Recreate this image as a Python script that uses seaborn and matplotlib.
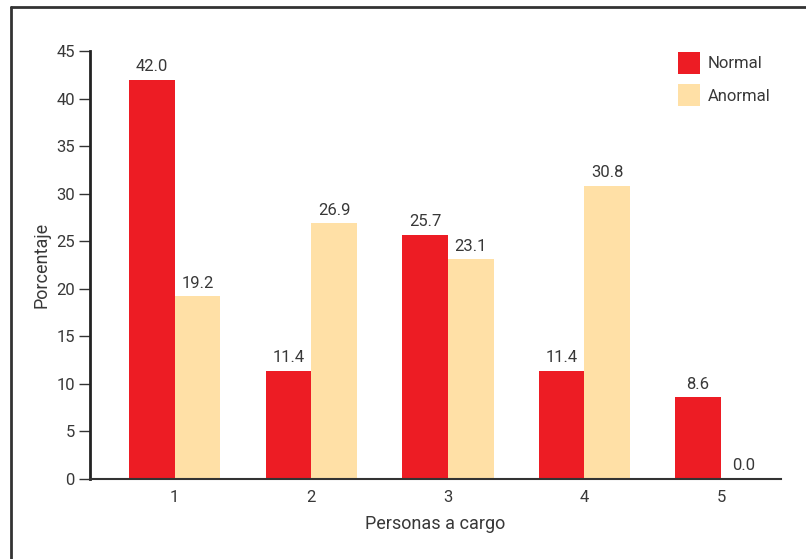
import matplotlib
matplotlib.use("Agg")
import matplotlib.pyplot as plt
import seaborn as sns
import pandas as pd
from matplotlib.lines import Line2D
from matplotlib.patches import Patch

categories = ["1", "2", "3", "4", "5"]
normal = [42.0, 11.4, 25.7, 11.4, 8.6]
anormal = [19.2, 26.9, 23.1, 30.8, 0.0]
series = ["Normal", "Anormal"]
colors = ["#ED1C24", "#FFE0A6"]

df = pd.DataFrame({
    "cat": categories * 2,
    "val": normal + anormal,
    "serie": ["Normal"] * 5 + ["Anormal"] * 5,
})

sns.set_style("white")
plt.rcParams["font.family"] = ["Roboto", "DejaVu Sans"]
txt = "#383838"

fig = plt.figure(figsize=(8.06, 5.59), dpi=100)
ax = fig.add_axes([0.1117, 0.1431, 0.969 - 0.1117, 0.9088 - 0.1431])

sns.barplot(data=df, x="cat", y="val", hue="serie", palette=colors,
            width=0.67, saturation=1, linewidth=0, ax=ax, legend=False)

for cont in ax.containers:
    ax.bar_label(cont, fmt="%.1f", padding=4, fontsize=12, color=txt)

ax.set_xlim(-0.62, 4.44)
ax.set_ylim(0, 45)
ax.set_yticks(range(0, 46, 5))
ax.tick_params(axis="y", direction="out", length=8, width=1, color="#333333",
               labelsize=12, labelcolor=txt, pad=3, left=True)
ax.tick_params(axis="x", length=0, labelsize=12, labelcolor=txt, pad=8)

for s in ["top", "right"]:
    ax.spines[s].set_visible(False)
ax.spines["left"].set_linewidth(2)
ax.spines["left"].set_color("#222222")
ax.spines["bottom"].set_linewidth(1.5)
ax.spines["bottom"].set_color("#333333")

ax.set_xlabel("Personas a cargo", fontsize=13, color=txt, labelpad=7)
ax.set_ylabel("Porcentaje", fontsize=13, color=txt, labelpad=4)

handles = [Patch(facecolor=c, edgecolor="none") for c in colors]
leg = ax.legend(handles, series, loc="upper left", bbox_to_anchor=(0.851, 0.998),
                frameon=False, fontsize=12, handlelength=1.32, handleheight=1.65,
                labelspacing=0.62, handletextpad=0.45, labelcolor=txt,
                borderpad=0, borderaxespad=0)

fig.add_artist(Line2D([0.0136, 1.0], [0.9875, 0.9875], color="#333333", lw=2,
                      transform=fig.transFigure))
fig.add_artist(Line2D([0.0136, 0.0136], [0.0, 0.9875], color="#333333", lw=2,
                      transform=fig.transFigure))

fig.savefig("out.png", dpi=100)
